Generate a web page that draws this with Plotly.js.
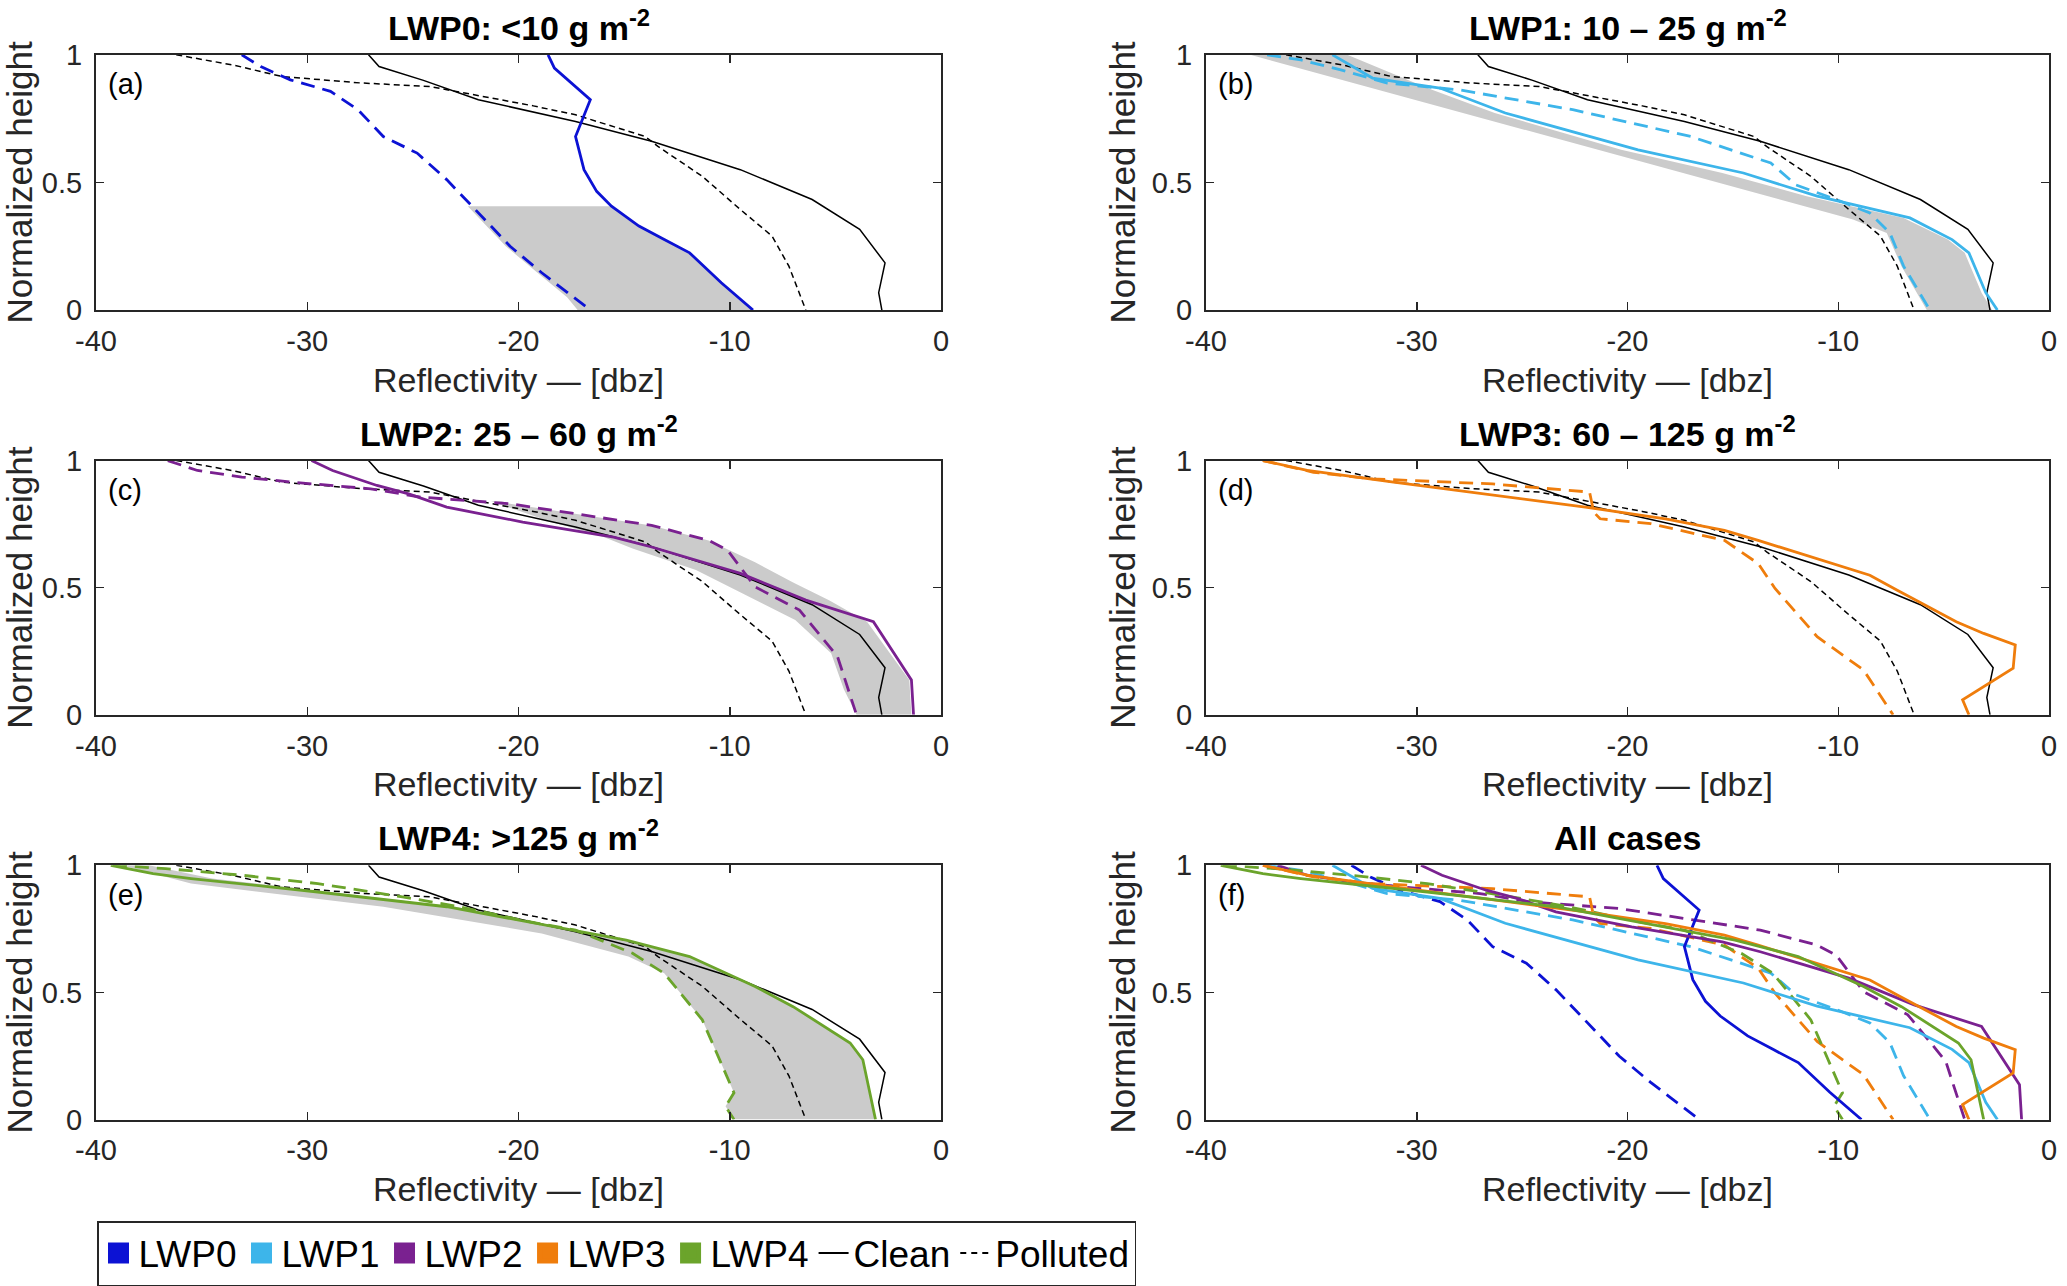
<!DOCTYPE html>
<html><head><meta charset="utf-8">
<script src="https://cdn.plot.ly/plotly-3.0.1.min.js"></script>
<style>html,body{margin:0;padding:0;background:#fff}#chart{width:2067px;height:1286px}</style>
</head><body><div id="chart"></div>
<script>
// ---------------- data ----------------
const xTicks = [-40, -30, -20, -10, 0];
const xTickText = ['-40', '-30', '-20', '-10', '0'];
const yTicks = [0, 0.5, 1];
const yTickText = ['0', '0.5', '1'];

const groupNames = ['LWP0', 'LWP1', 'LWP2', 'LWP3', 'LWP4'];
const groupColors = ['#0c12d4', '#3db5ea', '#7a2190', '#ef7d0c', '#6ba42b'];
const panelTitles = ['LWP0: &lt;10 g m<sup>-2</sup>', 'LWP1: 10 – 25 g m<sup>-2</sup>',
  'LWP2: 25 – 60 g m<sup>-2</sup>', 'LWP3: 60 – 125 g m<sup>-2</sup>',
  'LWP4: &gt;125 g m<sup>-2</sup>', 'All cases'];
const panelLetters = ['(a)', '(b)', '(c)', '(d)', '(e)', '(f)'];

// all-LWP clean / polluted (black)
const cleanAllH = [1, 0.954, 0.90, 0.824, 0.739, 0.661, 0.55, 0.433, 0.316, 0.185, 0.068, 0];
const cleanAllZ = [-27.1, -26.6, -24.5, -21.9, -17.3, -13.7, -9.5, -6.1, -3.85, -2.65, -2.95, -2.8];
const pollAllH = [1, 0.96, 0.915, 0.89, 0.876, 0.80, 0.765, 0.68, 0.641, 0.524, 0.394, 0.29, 0.172, 0];
const pollAllZ = [-36.2, -33.5, -31.2, -27.5, -24.2, -19.3, -17.3, -14.0, -13.4, -11.3, -9.5, -8.0, -7.2, -6.4];

// LWP0
const lwp0CleanH = [1, 0.948, 0.824, 0.68, 0.55, 0.465, 0.407, 0.329, 0.276, 0.224, 0.107, 0];
const lwp0CleanZ = [-18.6, -18.3, -16.6, -17.3, -16.9, -16.3, -15.6, -14.3, -13.1, -11.9, -10.4, -8.9];
const lwp0PollH = [1, 0.954, 0.902, 0.857, 0.785, 0.68, 0.615, 0.511, 0.407, 0.25, 0.146, 0];
const lwp0PollZ = [-33.1, -32.2, -30.8, -28.9, -27.6, -26.4, -24.8, -23.4, -22.2, -20.4, -18.9, -16.6];
// LWP1
const lwp1CleanH = [1, 0.909, 0.87, 0.772, 0.628, 0.537, 0.446, 0.361, 0.276, 0.224, 0.068, 0];
const lwp1CleanZ = [-34.0, -32.1, -28.9, -25.8, -19.5, -14.5, -11.0, -6.6, -4.6, -3.8, -3.0, -2.45];
const lwp1PollH = [1, 0.98, 0.941, 0.889, 0.863, 0.785, 0.68, 0.576, 0.49, 0.433, 0.38, 0.302, 0.172, 0];
const lwp1PollZ = [-37.1, -35.5, -33.6, -31.4, -28.0, -22.6, -17.0, -13.2, -12.0, -10.1, -8.5, -7.55, -6.9, -5.65];
// LWP2
const lwp2CleanH = [1, 0.961, 0.902, 0.869, 0.817, 0.758, 0.699, 0.66, 0.556, 0.451, 0.366, 0.137, 0];
const lwp2CleanZ = [-29.8, -28.8, -26.7, -25.2, -23.4, -19.8, -15.5, -13.7, -9.5, -6.4, -3.2, -1.4, -1.3];
const lwp2PollH = [1, 0.961, 0.935, 0.915, 0.889, 0.856, 0.83, 0.791, 0.745, 0.686, 0.647, 0.503, 0.412, 0.229, 0];
const lwp2PollZ = [-36.6, -35.2, -33.1, -30.7, -27.0, -24.6, -20.4, -17.3, -13.7, -11.0, -10.1, -8.8, -6.7, -4.9, -4.0];
// LWP3
const lwp3CleanH = [1, 0.961, 0.915, 0.863, 0.817, 0.771, 0.725, 0.686, 0.621, 0.549, 0.49, 0.366, 0.32, 0.275, 0.183, 0.059, 0];
const lwp3CleanZ = [-37.3, -35.2, -31.1, -26.4, -22.0, -18.2, -15.4, -13.8, -11.3, -8.5, -7.2, -4.4, -3.1, -1.6, -1.7, -4.1, -3.8];
const lwp3PollH = [1, 0.954, 0.928, 0.908, 0.876, 0.797, 0.771, 0.752, 0.686, 0.595, 0.497, 0.307, 0.176, 0];
const lwp3PollZ = [-37.3, -34.9, -32.1, -26.4, -21.8, -21.6, -21.3, -18.9, -15.4, -13.8, -13.0, -11.0, -8.8, -7.4];
// LWP4
const lwp4CleanH = [1, 0.967, 0.948, 0.895, 0.837, 0.778, 0.706, 0.641, 0.523, 0.444, 0.301, 0.235, 0];
const lwp4CleanZ = [-39.3, -37.3, -35.5, -29.5, -23.4, -19.5, -14.9, -11.9, -8.8, -7.0, -4.3, -3.7, -3.1];
const lwp4PollH = [1, 0.987, 0.961, 0.928, 0.876, 0.837, 0.778, 0.745, 0.654, 0.575, 0.392, 0.105, 0.052, 0];
const lwp4PollZ = [-39.2, -36.7, -33.1, -29.5, -25.5, -22.8, -19.5, -17.3, -14.6, -13.1, -11.3, -9.8, -10.2, -9.8];

// shaded ranges (lower-z edge and upper-z edge), panels a-e
const shade0LoH = [0.407, 0.329, 0.25, 0.146, 0.05, 0];
const shade0LoZ = [-22.4, -21.5, -20.6, -19.1, -17.7, -17.2];
const shade0HiH = [0.407, 0.329, 0.276, 0.224, 0.107, 0];
const shade0HiZ = [-15.6, -14.3, -13.1, -11.9, -10.4, -8.9];
const shade1LoH = [1, 0.355, 0.302, 0.172, 0];
const shade1LoZ = [-37.9, -9.3, -7.7, -7.0, -5.8];
const shade1HiH = [1, 0.87, 0.772, 0.628, 0.537, 0.446, 0.361, 0.276, 0.224, 0.068, 0];
const shade1HiZ = [-33.3, -29.5, -26.3, -20.3, -15.5, -11.5, -6.9, -4.8, -4.0, -3.2, -2.7];
const shade2LoH = [0.84, 0.76, 0.70, 0.654, 0.569, 0.477, 0.373, 0.242, 0.10, 0];
const shade2LoZ = [-21.3, -18.5, -16.0, -14.6, -11.6, -9.4, -6.9, -5.2, -4.6, -4.0];
const shade2HiH = [0.84, 0.83, 0.791, 0.745, 0.686, 0.6, 0.52, 0.45, 0.366, 0.137, 0];
const shade2HiZ = [-20.8, -20.4, -17.3, -13.7, -11.0, -8.8, -7.0, -5.3, -3.5, -1.5, -1.4];
const shade4LoH = [1, 0.928, 0.837, 0.732, 0.641, 0.575, 0.392, 0.105, 0.052, 0];
const shade4LoZ = [-38.8, -35.5, -26.4, -18.9, -14.8, -13.1, -11.3, -9.8, -10.2, -9.8];
const shade4HiH = [1, 0.948, 0.895, 0.837, 0.778, 0.706, 0.641, 0.523, 0.444, 0.301, 0.235, 0];
const shade4HiZ = [-37.5, -34.5, -29.0, -23.0, -19.3, -14.9, -11.9, -8.8, -7.0, -4.3, -3.7, -3.1];

// ---------------- build ----------------
const W = 2067, H = 1286;
const colPx = [[96, 941], [1206, 2049]];
const rowPx = [[55, 311], [462, 717], [868, 1123]];
const FONT = 'Liberation Sans, Arial, Helvetica, sans-serif';
const AXC = '#262626';

const groups = [
  {cH: lwp0CleanH, cZ: lwp0CleanZ, pH: lwp0PollH, pZ: lwp0PollZ,
   shade: {loH: shade0LoH, loZ: shade0LoZ, hiH: shade0HiH, hiZ: shade0HiZ}},
  {cH: lwp1CleanH, cZ: lwp1CleanZ, pH: lwp1PollH, pZ: lwp1PollZ,
   shade: {loH: shade1LoH, loZ: shade1LoZ, hiH: shade1HiH, hiZ: shade1HiZ}},
  {cH: lwp2CleanH, cZ: lwp2CleanZ, pH: lwp2PollH, pZ: lwp2PollZ,
   shade: {loH: shade2LoH, loZ: shade2LoZ, hiH: shade2HiH, hiZ: shade2HiZ}},
  {cH: lwp3CleanH, cZ: lwp3CleanZ, pH: lwp3PollH, pZ: lwp3PollZ, shade: null},
  {cH: lwp4CleanH, cZ: lwp4CleanZ, pH: lwp4PollH, pZ: lwp4PollZ,
   shade: {loH: shade4LoH, loZ: shade4LoZ, hiH: shade4HiH, hiZ: shade4HiZ}}
];

const traces = [];
const layout = {
  width: W, height: H, margin: {l: 0, r: 0, t: 0, b: 0},
  paper_bgcolor: '#fff', plot_bgcolor: '#fff',
  font: {family: FONT, color: '#000'},
  showlegend: true,
  annotations: []
};

const BLACK_DASH = '6px,4px';
const COL_DASH = '14px,8px';
const CW = 2.8, BW = 1.5;

function axName(i, k) { return i === 0 ? k : k + (i + 1); }

for (let i = 0; i < 6; i++) {
  const col = i % 2, row = Math.floor(i / 2);
  const xa = axName(i, 'x'), ya = axName(i, 'y');
  const xKey = i === 0 ? 'xaxis' : 'xaxis' + (i + 1);
  const yKey = i === 0 ? 'yaxis' : 'yaxis' + (i + 1);
  layout[xKey] = {
    domain: [colPx[col][0] / W, colPx[col][1] / W],
    anchor: ya, range: [-40, 0], tickvals: xTicks, ticktext: xTickText,
    ticks: 'inside', ticklen: 8, tickwidth: 1.5, tickcolor: AXC,
    showline: true, linecolor: AXC, linewidth: 2, mirror: 'ticks',
    showgrid: false, zeroline: false, fixedrange: true,
    tickfont: {family: FONT, size: 29, color: '#262626'},
    ticklabelstandoff: 4,
    title: {text: 'Reflectivity — [dbz]', font: {family: FONT, size: 34, color: '#262626'}, standoff: 12}
  };
  layout[yKey] = {
    domain: [1 - rowPx[row][1] / H, 1 - rowPx[row][0] / H],
    anchor: xa, range: [0, 1], tickvals: yTicks, ticktext: yTickText,
    ticks: 'inside', ticklen: 8, tickwidth: 1.5, tickcolor: AXC,
    showline: true, linecolor: AXC, linewidth: 2, mirror: 'ticks',
    showgrid: false, zeroline: false, fixedrange: true,
    tickfont: {family: FONT, size: 29, color: '#262626'},
    ticklabelstandoff: 6,
    title: {text: 'Normalized height', font: {family: FONT, size: 35, color: '#262626'}, standoff: 6}
  };
  layout.annotations.push({
    text: '<b>' + panelTitles[i] + '</b>', xref: xa + ' domain', yref: ya + ' domain',
    x: 0.5, y: 1, xanchor: 'center', yanchor: 'bottom', yshift: 6, showarrow: false,
    font: {family: FONT, size: 34, color: '#000'}
  });
  layout.annotations.push({
    text: panelLetters[i], xref: xa + ' domain', yref: ya + ' domain',
    x: 0.012, y: 0.885, xanchor: 'left', yanchor: 'middle', showarrow: false,
    font: {family: FONT, size: 29, color: '#000'}
  });

  if (i < 5) {
    const g = groups[i];
    if (g.shade) {
      const s = g.shade;
      traces.push({
        type: 'scatter', mode: 'lines', xaxis: xa, yaxis: ya, showlegend: false, hoverinfo: 'skip',
        x: s.loZ.concat(s.hiZ.slice().reverse()), y: s.loH.concat(s.hiH.slice().reverse()),
        fill: 'toself', fillcolor: '#cbcbcb', line: {width: 0, color: 'rgba(0,0,0,0)'}
      });
    }
    traces.push({type: 'scatter', mode: 'lines', xaxis: xa, yaxis: ya, showlegend: false,
      x: cleanAllZ, y: cleanAllH, line: {color: '#000', width: BW}});
    traces.push({type: 'scatter', mode: 'lines', xaxis: xa, yaxis: ya, showlegend: false,
      x: pollAllZ, y: pollAllH, line: {color: '#000', width: BW, dash: BLACK_DASH}});
    traces.push({type: 'scatter', mode: 'lines', xaxis: xa, yaxis: ya, showlegend: false,
      x: g.cZ, y: g.cH, line: {color: groupColors[i], width: CW}});
    traces.push({type: 'scatter', mode: 'lines', xaxis: xa, yaxis: ya, showlegend: false,
      x: g.pZ, y: g.pH, line: {color: groupColors[i], width: CW, dash: COL_DASH}});
  } else {
    for (let k = 0; k < 5; k++) {
      const g = groups[k];
      traces.push({type: 'scatter', mode: 'lines', xaxis: xa, yaxis: ya, showlegend: false,
        x: g.pZ, y: g.pH, line: {color: groupColors[k], width: CW, dash: COL_DASH}});
    }
    for (let k = 0; k < 5; k++) {
      const g = groups[k];
      traces.push({type: 'scatter', mode: 'lines', xaxis: xa, yaxis: ya, showlegend: false,
        x: g.cZ, y: g.cH, line: {color: groupColors[k], width: CW}});
    }
  }
}

// legend entries
for (let k = 0; k < 5; k++) {
  traces.push({type: 'scatter', mode: 'markers', x: [null], y: [null], name: groupNames[k],
    marker: {symbol: 'square', size: 16, color: groupColors[k], line: {color: groupColors[k], width: 5}}});
}
traces.push({type: 'scatter', mode: 'lines', x: [null], y: [null], name: 'Clean',
  line: {color: '#000', width: 2}});
traces.push({type: 'scatter', mode: 'lines', x: [null], y: [null], name: 'Polluted',
  line: {color: '#000', width: 2, dash: '6px,5px'}});

layout.legend = {
  orientation: 'h', x: 97 / W, y: 1 - 1225 / H, xanchor: 'left', yanchor: 'top',
  bgcolor: '#fff', bordercolor: '#262626', borderwidth: 1.5,
  font: {family: FONT, size: 37, color: '#000'}, itemwidth: 30, traceorder: 'normal'
};

Plotly.newPlot('chart', traces, layout, {staticPlot: true, displayModeBar: false});
</script></body></html>
